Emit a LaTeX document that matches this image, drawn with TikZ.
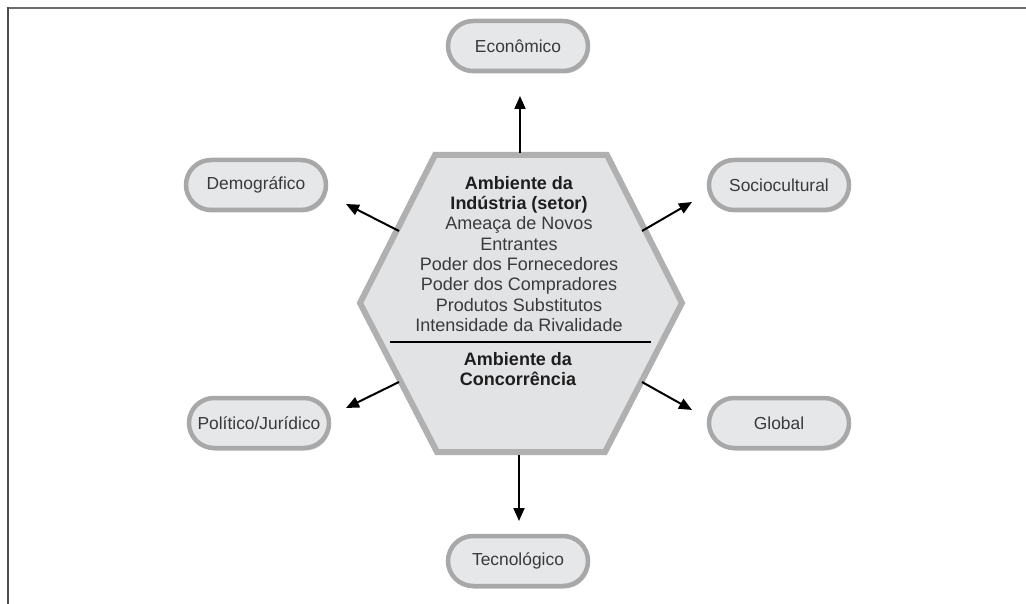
\documentclass[tikz,border=0pt]{standalone}
\usepackage{fontspec}
\setmainfont{Liberation Sans}
\usetikzlibrary{arrows.meta,shadows}
\definecolor{pillfill}{HTML}{E6E7E9}
\definecolor{pillline}{HTML}{A8A8A8}
\definecolor{hexfill}{HTML}{E2E3E5}
\definecolor{hexline}{HTML}{B0B0B0}
\definecolor{txtgray}{HTML}{3A3A3A}
\definecolor{txtdark}{HTML}{1E1E1E}
\tikzset{
  pill/.style={draw=pillline, line width=4.5pt, fill=pillfill, rounded corners=25pt,
    minimum width=140pt, minimum height=50pt, inner sep=0pt, text=txtgray,
    font=\fontsize{17.4}{20}\selectfont,
    drop shadow={shadow xshift=1.5pt, shadow yshift=-2.5pt, fill=black, opacity=0.22}},
  arr/.style={draw=black, line width=2pt, -{Triangle[length=13pt,width=11pt]}},
  hextext/.style={align=center, inner sep=0pt, text=txtgray,
    font=\fontsize{18}{20.3}\selectfont},
  frameline/.style={line width=2pt}
}
\begin{document}
\begin{tikzpicture}[x=1pt,y=-1pt]
\useasboundingbox (0,0) rectangle (1026,604);
% frame
\draw[frameline, black!58] (7,8) -- (1026,8);
\draw[frameline, black!70] (8,7) -- (8,604);

% hexagon corners
\coordinate (hTL) at (435,155);
\coordinate (hTR) at (607,155);
\coordinate (hR)  at (682,303);
\coordinate (hBR) at (605,452);
\coordinate (hBL) at (437,452);
\coordinate (hL)  at (360,303);
% shadow
\fill[black!30, shift={(2pt,-3pt)}] (hTL) -- (hTR) -- (hR) -- (hBR) -- (hBL) -- (hL) -- cycle;
\draw[hexline, fill=hexfill, line width=6pt, line join=miter] (hTL) -- (hTR) -- (hR) -- (hBR) -- (hBL) -- (hL) -- cycle;

% divider
\coordinate (dL) at (390,342);
\coordinate (dR) at (651,342);
\draw[black, line width=1.8pt] (dL) -- (dR);

\node[hextext] (ind) at (519,254) {\textcolor{txtdark}{\bfseries Ambiente da}\\\textcolor{txtdark}{\bfseries Indústria (setor)}\\Ameaça de Novos\\Entrantes\\Poder dos Fornecedores\\Poder dos Compradores\\Produtos Substitutos\\Intensidade da Rivalidade};
\node[hextext, text=txtdark, font=\fontsize{18}{20.3}\selectfont\bfseries] (conc) at (518,369) {Ambiente da\\Concorrência};

% pills
\node[pill] (econ)  at (518,46)  {Econômico};
\node[pill] (demo)  at (256,185) {Demográfico};
\node[pill] (socio) at (779,185) {Sociocultural};
\node[pill] (polit) at (259,423) {Político/Jurídico};
\node[pill] (glob)  at (779,423) {Global};
\node[pill] (tecno) at (518,561) {Tecnológico};

% arrow ends
\coordinate (sN)  at (520,153);
\coordinate (sS)  at (519,455);
\coordinate (sUL) at (399,231);
\coordinate (sUR) at (642,231);
\coordinate (sLL) at (399,382);
\coordinate (sLR) at (642,382);
\coordinate (tN)  at (520,96);
\coordinate (tS)  at (519,521);
\coordinate (tUL) at (346,204);
\coordinate (tUR) at (692,202);
\coordinate (tLL) at (346,408);
\coordinate (tLR) at (692,410);

\draw[arr] (sN) -- (tN);
\draw[arr] (sS) -- (tS);
\draw[arr] (sUL) -- (tUL);
\draw[arr] (sUR) -- (tUR);
\draw[arr] (sLL) -- (tLL);
\draw[arr] (sLR) -- (tLR);
\end{tikzpicture}
\end{document}
